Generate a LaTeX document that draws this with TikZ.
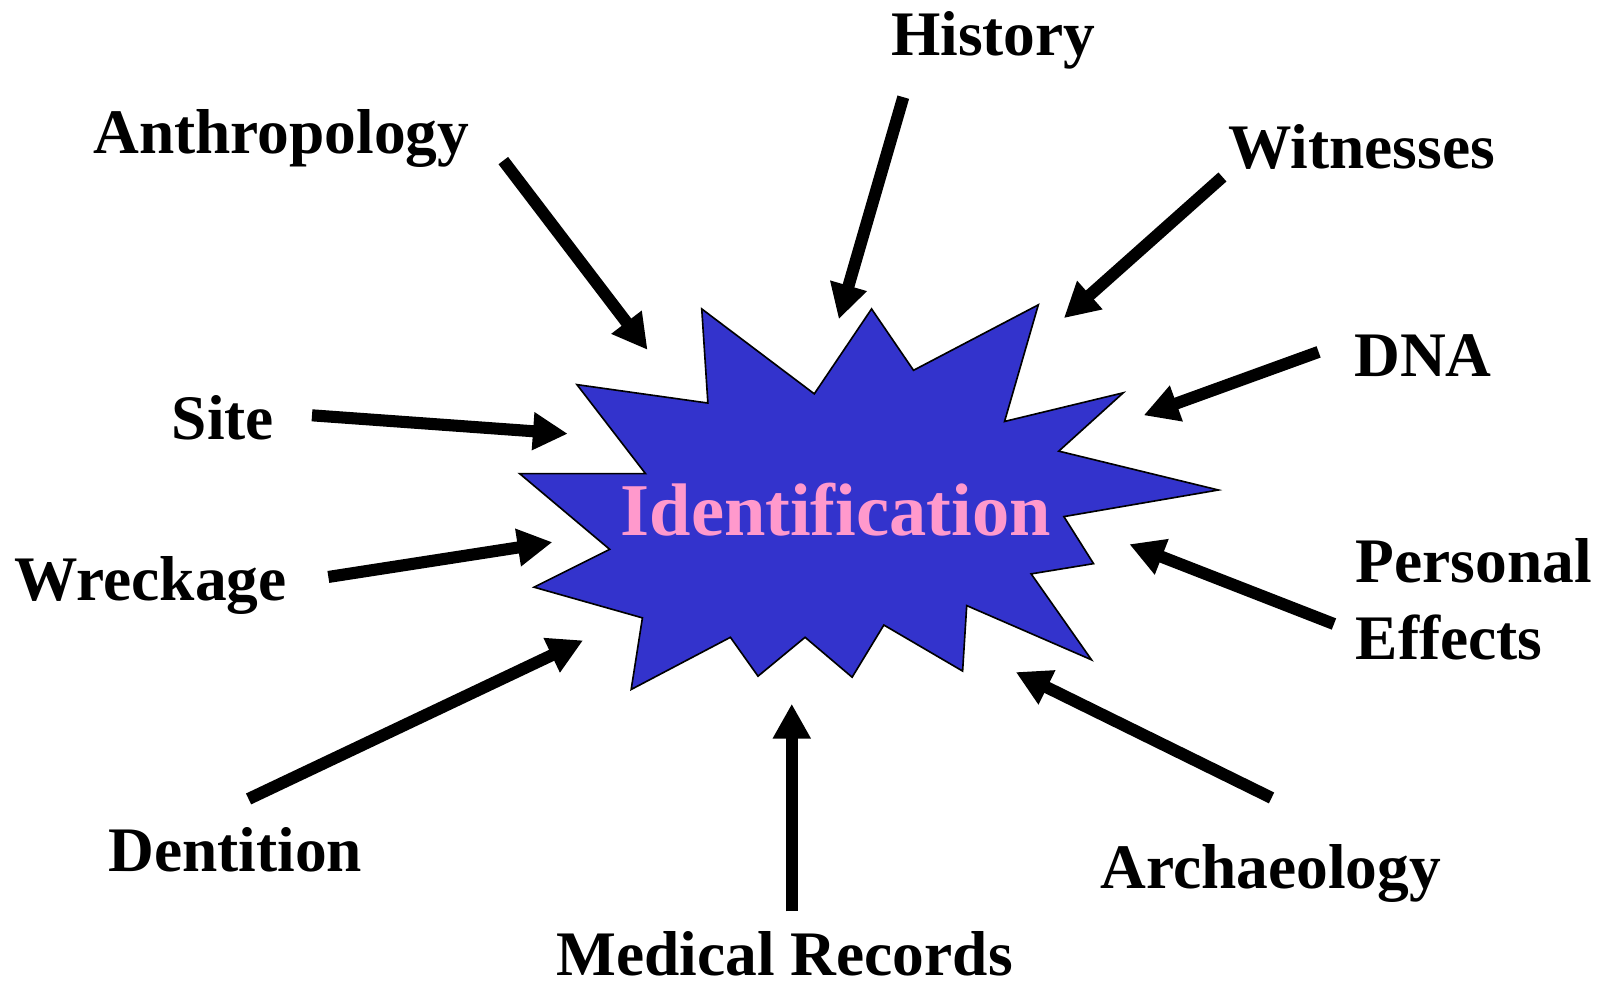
\documentclass[tikz,border=0pt]{standalone}
\usepackage{fontspec}
\setmainfont{Liberation Serif}
\usetikzlibrary{arrows.meta}
\definecolor{starblue}{HTML}{3333CC}
\definecolor{idpink}{HTML}{FF99CC}
\begin{document}
\begin{tikzpicture}[x=0.5pt, y=-0.5pt]
\tikzstyle{source} = [font=\fontsize{31}{37.5}\selectfont\bfseries, anchor=base, inner sep=0pt]
\tikzstyle{arrow} = [line width=5.9pt, -{Triangle[length=17pt, width=17.5pt]}]
\tikzstyle{burst} = [draw, fill=starblue, line width=0.8pt, line join=miter]

\useasboundingbox (0,0) rectangle (1568,968);

% the burst in the middle
\draw [burst] (564,376) -- (692,394) -- (686,302) -- (796,385) -- (852,302)
  -- (893,362) -- (1015,298) -- (982,412) -- (1098,384) -- (1035,441)
  -- (1191,479) -- (1040,505) -- (1069,551) -- (1008,561) -- (1067,645)
  -- (945,592) -- (941,656) -- (864,611) -- (833,662) -- (787,623)
  -- (741,661) -- (714,623) -- (617,674) -- (628,604) -- (522,574)
  -- (596,537) -- (508,463) -- (631,463) -- cycle;
\node (ident) [font=\fontsize{36.4}{44}\selectfont\bfseries, text=idpink, anchor=base, inner sep=0pt] at (817,523) {Identification};

\node (history) [source] at (971,54) {History};
\node (anthro) [source] at (275,150) {Anthropology};
\node (witness) [source] at (1331,165) {Witnesses};
\node (dna) [source] at (1391,368) {DNA};
\node (site) [source] at (218,430) {Site};
\node (wreck) [source] at (147,587) {Wreckage};
\node (effects) [source, anchor=north west, align=left] at (1325,526) {Personal\\Effects};
\node (dent) [source] at (230,852) {Dentition};
\node (archae) [source] at (1242,869) {Archaeology};
\node (medical) [source] at (767,954) {Medical Records};

\coordinate (historyS) at (883,95);   \coordinate (historyE) at (820,312);
\coordinate (anthroS) at (492,157);   \coordinate (anthroE) at (633,342);
\coordinate (witnessS) at (1195,173); \coordinate (witnessE) at (1040,311);
\coordinate (dnaS) at (1289,344);     \coordinate (dnaE) at (1118,406);
\coordinate (siteS) at (305,406);     \coordinate (siteE) at (555,424);
\coordinate (wreckS) at (321,564);    \coordinate (wreckE) at (540,530);
\coordinate (effectsS) at (1304,610); \coordinate (effectsE) at (1104,532);
\coordinate (dentS) at (243,781);     \coordinate (dentE) at (570,626);
\coordinate (medicalS) at (774,891);  \coordinate (medicalE) at (774,688);
\coordinate (archaeS) at (1243,780);  \coordinate (archaeE) at (993,657);

\draw [arrow] (historyS) -- (historyE);
\draw [arrow] (anthroS) -- (anthroE);
\draw [arrow] (witnessS) -- (witnessE);
\draw [arrow] (dnaS) -- (dnaE);
\draw [arrow] (siteS) -- (siteE);
\draw [arrow] (wreckS) -- (wreckE);
\draw [arrow] (effectsS) -- (effectsE);
\draw [arrow] (dentS) -- (dentE);
\draw [arrow] (medicalS) -- (medicalE);
\draw [arrow] (archaeS) -- (archaeE);
\end{tikzpicture}
\end{document}
